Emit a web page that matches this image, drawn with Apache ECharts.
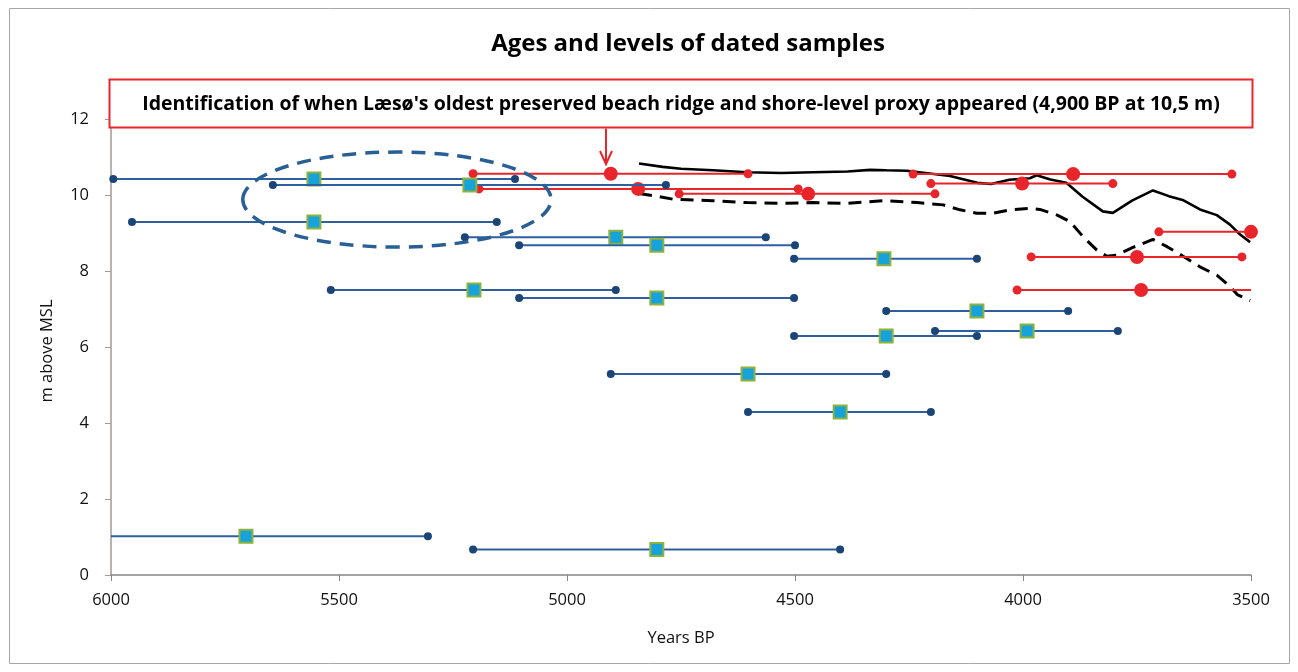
<!DOCTYPE html>
<html><head><meta charset="utf-8">
<script src="https://cdn.jsdelivr.net/npm/echarts@6/dist/echarts.min.js"></script>
<style>html,body{margin:0;padding:0;background:#fff}#c{width:1298px;height:672px}</style>
</head><body><div id="c"></div>
<script>
// Blue dated samples: level (m above MSL), older bound, younger bound, central age (Years BP)
const blueLevel = [10.42, 10.26, 9.29, 8.89, 8.68, 8.32, 7.50, 7.29, 6.95, 6.42, 6.29, 5.29, 4.29, 1.02, 0.67];
const blueOld   = [5995, 5645, 5954, 5224, 5105, 4502, 5518, 5105, 4300, 4193, 4502, 4904, 4603, 6095, 5206];
const blueYoung = [5114, 4783, 5154, 4564, 4500, 4101, 4893, 4502, 3901, 3792, 4101, 4300, 4202, 5305, 4401];
const blueAge   = [5555, 5213, 5555, 4893, 4803, 4305, 5204, 4803, 4101, 3991, 4300, 4603, 4401, 5704, 4803];

// Red dated samples
const redLevel = [10.56, 10.16, 10.03, 10.55, 10.30, 9.03, 8.37, 7.50];
const redOld   = [5206, 5193, 4754, 4241, 4202, 3702, 3982, 4013];
const redYoung = [4603, 4493, 4193, 3542, 3803, 3300, 3520, 3469];
const redAge   = [4904, 4844, 4471, 3890, 4002, 3500, 3750, 3741];

// Upper (solid) shore-level curve
const upperAge   = [4842, 4790, 4750, 4680, 4605, 4530, 4460, 4385, 4335, 4300, 4255, 4200, 4160, 4100, 4070, 4030, 3985, 3970, 3940, 3905, 3870, 3825, 3803, 3760, 3715, 3680, 3650, 3612, 3575, 3546, 3524, 3502];
const upperLevel = [10.83, 10.74, 10.69, 10.65, 10.60, 10.58, 10.60, 10.62, 10.66, 10.65, 10.64, 10.56, 10.50, 10.32, 10.29, 10.40, 10.44, 10.52, 10.41, 10.32, 9.96, 9.57, 9.53, 9.86, 10.12, 9.97, 9.87, 9.62, 9.47, 9.22, 8.96, 8.76];

// Lower (dashed) shore-level curve
const lowerAge   = [4842, 4803, 4768, 4680, 4605, 4533, 4461, 4386, 4307, 4232, 4175, 4138, 4101, 4066, 4029, 3985, 3963, 3925, 3897, 3868, 3838, 3816, 3794, 3759, 3715, 3684, 3649, 3612, 3575, 3546, 3529, 3502];
const lowerLevel = [10.04, 9.97, 9.89, 9.85, 9.80, 9.78, 9.80, 9.78, 9.85, 9.80, 9.74, 9.61, 9.52, 9.52, 9.61, 9.65, 9.62, 9.47, 9.30, 8.90, 8.55, 8.39, 8.42, 8.62, 8.83, 8.64, 8.39, 8.11, 7.89, 7.59, 7.37, 7.22];

const xTicks = [6000, 5500, 5000, 4500, 4000, 3500];
const yTicks = [0, 2, 4, 6, 8, 10, 12];

// Highlight ellipse (annotation), in data units
const ellipseCenter = [5373, 9.88];
const ellipseRadius = [338, 1.25];

const titleText = 'Ages and levels of dated samples';
const noteText = "Identification of when Læsø's oldest preserved beach ridge and shore-level proxy appeared (4,900 BP at 10,5 m)";

const chart = echarts.init(document.getElementById('c'));

function rangeRenderer(level, old, young, kind) {
  return function (params, api) {
    const i = params.dataIndex;
    const cs = params.coordSys;
    const xmin = cs.x, xmax = cs.x + cs.width;
    const p1 = api.coord([old[i], level[i]]);
    const p2 = api.coord([young[i], level[i]]);
    const pc = api.coord([api.value(0), api.value(1)]);
    const a = Math.max(Math.min(p1[0], p2[0]), xmin);
    const b = Math.min(Math.max(p1[0], p2[0]), xmax);
    const blue = kind === 'blue';
    const lineColor = blue ? '#2f5f9e' : '#e8252a';
    const dotColor = blue ? '#1b4577' : '#e8252a';
    const children = [{
      type: 'line',
      shape: { x1: a, y1: p1[1], x2: b, y2: p2[1] },
      style: { stroke: lineColor, lineWidth: 2 }
    }];
    [p1, p2].forEach(function (p) {
      if (p[0] >= xmin - 0.5 && p[0] <= xmax + 0.5) {
        children.push({ type: 'circle', shape: { cx: p[0], cy: p[1], r: blue ? 4 : 4.5 }, style: { fill: dotColor } });
      }
    });
    if (blue) {
      children.push({ type: 'rect', shape: { x: pc[0] - 6.5, y: pc[1] - 6.5, width: 13, height: 13 },
        style: { fill: '#17a2dc', stroke: '#8db33c', lineWidth: 2 } });
    } else {
      children.push({ type: 'circle', shape: { cx: pc[0], cy: pc[1], r: 7 }, style: { fill: '#e8252a' } });
    }
    return { type: 'group', children: children };
  };
}

const font = "'Open Sans', sans-serif";

chart.setOption({
  animation: false,
  backgroundColor: '#fff',
  grid: { left: 111, right: 47, top: 81, bottom: 97 },
  xAxis: {
    type: 'value', inverse: true, min: 3500, max: 6000, interval: 500,
    name: 'Years BP', nameLocation: 'middle', nameGap: 55,
    nameTextStyle: { fontFamily: font, fontSize: 16.5, color: '#111' },
    axisLine: { show: true, lineStyle: { color: '#858585', width: 1.5 } },
    axisTick: { show: true, length: 6, lineStyle: { color: '#858585' }, customValues: xTicks },
    axisLabel: { fontFamily: font, fontSize: 16.5, color: '#111', margin: 17, customValues: xTicks,
      formatter: function (v) { return String(v); } },
    splitLine: { show: false }
  },
  yAxis: {
    type: 'value', min: 0, max: 13, interval: 2,
    axisLine: { show: true, lineStyle: { color: '#a09a94', width: 1.5 } },
    axisTick: { show: true, length: 6, lineStyle: { color: '#a09a94' }, customValues: yTicks },
    axisLabel: { fontFamily: font, fontSize: 16.5, color: '#111', margin: 22, customValues: yTicks,
      formatter: function (v) { return String(v); } },
    splitLine: { show: false }
  },
  series: [
    {
      type: 'line', name: 'upper', data: upperAge.map((a, i) => [a, upperLevel[i]]),
      symbol: 'none', lineStyle: { color: '#000', width: 2.6 }, z: 3
    },
    {
      type: 'line', name: 'lower', data: lowerAge.map((a, i) => [a, lowerLevel[i]]),
      symbol: 'none', lineStyle: { color: '#000', width: 3, type: [13, 8] }, z: 3
    },
    {
      type: 'custom', name: 'red', renderItem: rangeRenderer(redLevel, redOld, redYoung, 'red'),
      data: redAge.map((a, i) => [a, redLevel[i]]), encode: { x: 0, y: 1 }, z: 4
    },
    {
      type: 'custom', name: 'blue', renderItem: rangeRenderer(blueLevel, blueOld, blueYoung, 'blue'),
      data: blueAge.map((a, i) => [a, blueLevel[i]]), encode: { x: 0, y: 1 }, z: 5
    }
  ]
});

const c = chart.convertToPixel({ gridIndex: 0 }, ellipseCenter);
const e = chart.convertToPixel({ gridIndex: 0 }, [ellipseCenter[0] - ellipseRadius[0], ellipseCenter[1] + ellipseRadius[1]]);

chart.setOption({
  graphic: [
    { type: 'rect', shape: { x: 9.5, y: 8.5, width: 1280, height: 655 }, style: { fill: 'none', stroke: '#a6a6a6', lineWidth: 1 }, z: 1 },
    { type: 'text', x: 688, y: 44, style: { text: titleText, fontFamily: font, fontWeight: 'bold', fontSize: 24, fill: '#000', textAlign: 'center', textVerticalAlign: 'middle' }, z: 10 },
    { type: 'text', x: 47, y: 351, rotation: Math.PI / 2, style: { text: 'm above MSL', fontFamily: font, fontSize: 16.5, fill: '#111', textAlign: 'center', textVerticalAlign: 'middle' }, z: 10 },
    { type: 'ellipse', shape: { cx: c[0], cy: c[1], rx: Math.abs(c[0] - e[0]), ry: Math.abs(c[1] - e[1]) },
      style: { fill: 'none', stroke: '#285f94', lineWidth: 3.5, lineDash: [14, 9] }, z: 20 },
    { type: 'rect', shape: { x: 109.5, y: 79.5, width: 1143, height: 48 }, style: { fill: '#fff', stroke: '#e8262b', lineWidth: 2 }, z: 30 },
    { type: 'text', x: 681, y: 104, style: { text: noteText, fontFamily: font, fontWeight: 'bold', fontSize: 19.5, fill: '#000', textAlign: 'center', textVerticalAlign: 'middle' }, z: 31 },
    { type: 'line', shape: { x1: 606, y1: 128.5, x2: 606, y2: 163 }, style: { stroke: '#e8262b', lineWidth: 2 }, z: 30 },
    { type: 'polyline', shape: { points: [[600, 151], [606, 164], [612, 151]] }, style: { fill: 'none', stroke: '#e8262b', lineWidth: 2 }, z: 30 }
  ]
});
</script>
</body></html>
